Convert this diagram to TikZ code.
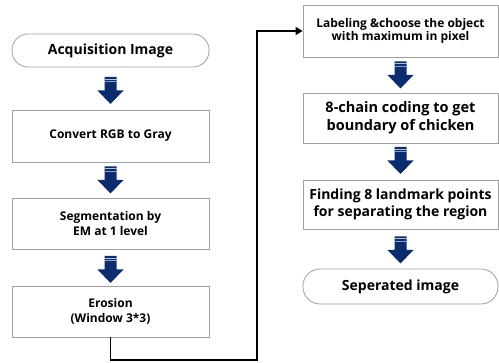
\documentclass[tikz,border=0pt]{standalone}
\usepackage{fontspec}
\setmainfont{Open Sans}
\usetikzlibrary{arrows.meta,calc}
\definecolor{navy}{HTML}{0B2C6E}
\definecolor{boxline}{HTML}{A0A0A0}
\tikzset{
  x=1pt,y=1pt,
  box/.style={draw=boxline, line width=0.8pt, fill=white, align=center, inner sep=0pt, font=\bfseries},
  lbox/.style={box, minimum width=197pt},
  rbox/.style={box, minimum width=195pt},
  conn/.style={draw=black, line width=1.8pt, -{Triangle[length=7pt,width=8pt]}},
  bigarrow/.pic={
    \fill[navy] (-6,13.5) -- (6,13.5) -- (6,0) -- (13,0) -- (0,-13.5) -- (-13,0) -- (-6,0) -- cycle;
    \draw[white!70!navy, line width=0.7pt] (-6,11.5) -- (6,11.5);
    \draw[white!55!navy, line width=0.6pt] (-6,9) -- (6,9);
  }
}
\begin{document}
\begin{tikzpicture}
\useasboundingbox (0,0) rectangle (499,-363);
% left column
\node[lbox, rounded corners=16pt, minimum height=33pt, font=\bfseries\fontsize{14}{16}\selectfont] (acq) at (110.5,-50.5) {Acquisition Image};
\node[lbox, minimum height=52pt, font=\bfseries\fontsize{12}{14.5}\selectfont] (conv) at (110.5,-136) {Convert RGB to Gray};
\node[lbox, minimum height=51pt, font=\bfseries\fontsize{12}{14.5}\selectfont] (seg) at (110.5,-223.5) {Segmentation by\\EM at 1 level};
\node[lbox, minimum height=51pt, font=\bfseries\fontsize{12}{14.5}\selectfont] (ero) at (110.5,-311.5) {Erosion\\(Window 3*3)};
% right column
\node[rbox, minimum height=52pt, font=\bfseries\fontsize{12}{13.5}\selectfont] (lab) at (400.5,-31) {Labeling \&choose the object\\with maximum in pixel};
\node[rbox, minimum height=50pt, font=\bfseries\fontsize{14.5}{18}\selectfont] (chain) at (400.5,-118) {8-chain coding to get\\boundary of chicken};
\node[rbox, minimum height=49pt, font=\bfseries\fontsize{14}{16.5}\selectfont] (find) at (400.5,-204.5) {Finding 8 landmark points\\for separating the region};
\node[rbox, rounded corners=17pt, minimum height=35pt, font=\bfseries\fontsize{14}{16}\selectfont] (sep) at (400.5,-286.5) {Seperated image};
% block arrows
\pic at ($(acq.south)!0.5!(conv.north)+(0,-2)$) {bigarrow};
\pic at ($(conv.south)!0.5!(seg.north)$) {bigarrow};
\pic at ($(seg.south)!0.5!(ero.north)+(0,-2)$) {bigarrow};
\pic at ($(lab.south)!0.5!(chain.north)$) {bigarrow};
\pic at ($(chain.south)!0.5!(find.north)+(0,1)$) {bigarrow};
\pic at ($(find.south)!0.5!(sep.north)+(0,-1)$) {bigarrow};
% connector
\coordinate (c1) at (257,-360);
\draw[conn] (ero.south) |- (c1) |- (lab.west);
\end{tikzpicture}
\end{document}
